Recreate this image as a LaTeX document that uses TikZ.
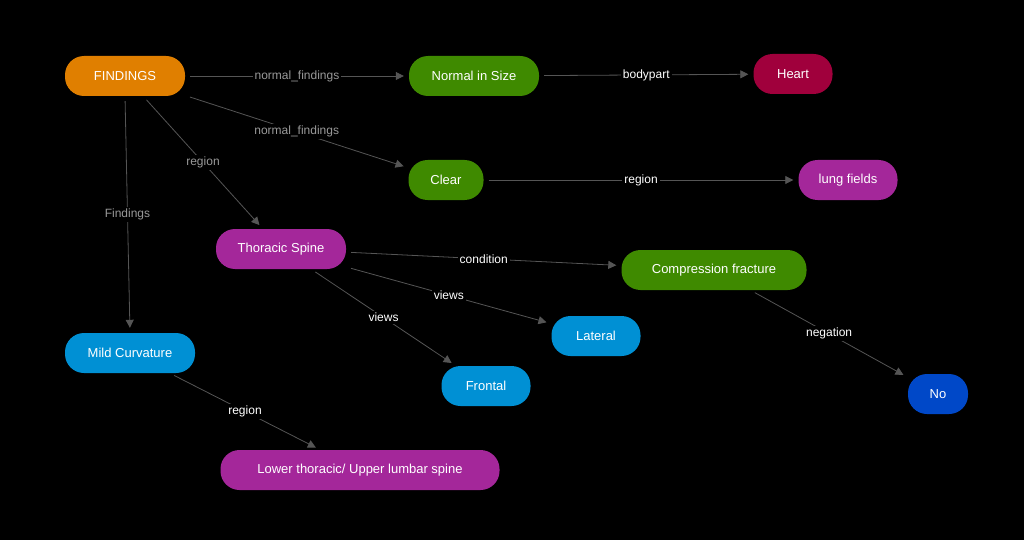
\documentclass[tikz,border=0pt]{standalone}
\usepackage{fontspec}
\setmainfont{Liberation Sans}
\usetikzlibrary{arrows.meta}
\definecolor{cor}{HTML}{E07F00}
\definecolor{cgr}{HTML}{3F8A00}
\definecolor{cre}{HTML}{A0003C}
\definecolor{cpu}{HTML}{A4279A}
\definecolor{cbl}{HTML}{0090D4}
\definecolor{cdb}{HTML}{0048C8}
\definecolor{cln}{HTML}{555555}
\begin{document}
\begin{tikzpicture}[x=1pt,y=-1pt,
  box/.style={rounded corners=19pt,minimum height=40pt,text=white,font=\fontsize{13}{15}\selectfont,inner sep=0pt},
  e/.style={draw=cln,line width=0.8pt,-{Triangle[length=8pt,width=8pt]},shorten >=5pt,shorten <=5pt},
  lb/.style={fill=black,text=white,font=\fontsize{12}{14}\selectfont,inner sep=2pt},
  lg/.style={lb,text=gray!80}]
\fill[black] (0,0) rectangle (1024,540);
\useasboundingbox (0,0) rectangle (1024,540);
\node[box,fill=cor,minimum width=120pt] (f) at (125,76) {FINDINGS};
\node[box,fill=cgr,minimum width=130pt] (n) at (474,76) {Normal in Size};
\node[box,fill=cre,minimum width=79pt] (h) at (793,74) {Heart};
\node[box,fill=cgr,minimum width=75pt] (c) at (446,180) {Clear};
\node[box,fill=cpu,minimum width=99pt] (lf) at (848,180) {lung fields};
\node[box,fill=cpu,minimum width=130pt] (t) at (281,249) {Thoracic Spine};
\node[box,fill=cgr,minimum width=185pt] (cf) at (714,270) {Compression fracture};
\node[box,fill=cbl,minimum width=89pt] (la) at (596,336) {Lateral};
\node[box,fill=cbl,minimum width=130pt] (m) at (130,353) {Mild Curvature};
\node[box,fill=cbl,minimum width=89pt] (fr) at (486,386) {Frontal};
\node[box,fill=cdb,minimum width=60pt] (no) at (938,394) {No};
\node[box,fill=cpu,minimum width=279pt] (lo) at (360,470) {Lower thoracic/ Upper lumbar spine};
\draw[e] (f) -- node[lg]{normal\_findings} (n);
\draw[e] (n) -- node[lb]{bodypart} (h);
\draw[e] (f) -- node[lg]{normal\_findings} (c);
\draw[e] (c) -- node[lb]{region} (lf);
\draw[e] (f) -- node[lg]{region} (t);
\draw[e] (f.south) -- node[lg]{Findings} (m.north);
\draw[e] (t) -- node[lb]{condition} (cf);
\draw[e] (t) -- node[lb]{views} (la);
\draw[e] (t) -- node[lb]{views} (fr);
\draw[e] (cf) -- node[lb]{negation} (no);
\draw[e] (m) -- node[lb]{region} (lo);
\end{tikzpicture}
\end{document}
